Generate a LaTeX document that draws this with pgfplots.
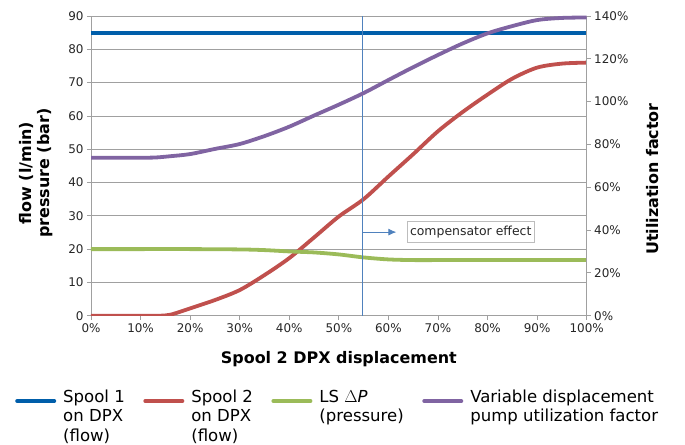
\documentclass[border=0pt]{standalone}
\usepackage{fontspec}
\setmainfont{DejaVu Sans}
\usepackage{pgfplots}
\pgfplotsset{compat=1.18}
\usetikzlibrary{arrows.meta}

\definecolor{sblue}{RGB}{0,94,170}
\definecolor{sred}{RGB}{192,80,77}
\definecolor{sgreen}{RGB}{155,187,89}
\definecolor{spurple}{RGB}{128,100,162}
\definecolor{vblue}{RGB}{79,129,189}
\definecolor{gridc}{RGB}{160,160,160}

\pgfplotsset{
  common/.style={
    scale only axis, width=495.7bp, height=299.7bp,
    xmin=0, xmax=100,
    axis line style={gridc, line width=0.8bp},
    tick style={gridc, line width=0.8bp},
    tick align=outside, major tick length=4bp,
    ticklabel style={font=\fontsize{12}{14}\selectfont, text=black!85},
    /pgf/number format/assume math mode=true,
    label style={font=\fontsize{16}{18}\selectfont\bfseries},
  },
}

\begin{document}
\begin{tikzpicture}
\begin{axis}[common,
  ymin=0, ymax=90,
  axis y line*=left, axis x line*=bottom,
  xtick={0,10,...,100}, ytick={0,10,...,90},
  xticklabel={\pgfmathprintnumber{\tick}\%},
  ymajorgrids, grid style={gridc, line width=0.8bp},
  xlabel={Spool 2 DPX displacement},
  xlabel style={at={(axis description cs:0.5,-0.1585)}, anchor=base},
  ylabel={flow (l/min)\\pressure (bar)},
  ylabel style={align=center, at={(axis description cs:-0.111,0.476)}, anchor=center},
  legend cell align=left,
  legend columns=4,
  legend image code/.code={\draw[#1, line width=4bp, line cap=round] (2bp,1.5bp) -- (39bp,1.5bp);},
  legend style={at={(axis description cs:-0.1593,-0.237)}, anchor=north west,
    draw=none, fill=none, font=\fontsize{16.6}{19.5}\selectfont,
    nodes={inner sep=0pt, anchor=base west},
    /tikz/every odd column/.append style={column sep=7bp},
    /tikz/every even column/.append style={column sep=18.5bp}},
]
\coordinate (sw) at (rel axis cs:0,0);

\addplot[sblue, line width=3.8bp] coordinates {(0,85) (100,85)};
\addlegendentry{\begin{tabular}[t]{@{}l@{}}Spool 1\\on DPX\\(flow)\end{tabular}}

\addplot[sred, line width=3.8bp, smooth] coordinates {
  (0,0) (5,0) (10,0) (14,0) (16,0.3) (18,1.2) (20,2.2) (25,4.7) (30,7.7)
  (35,12.2) (40,17.3) (45,23.5) (50,29.8) (55,35) (60,41.8) (65,48.5)
  (70,55.4) (75,61.2) (80,66.4) (85,71.2) (90,74.5) (95,75.7) (100,76)};
\addlegendentry{\begin{tabular}[t]{@{}l@{}}Spool 2\\on DPX\\(flow)\end{tabular}}

\addplot[sgreen, line width=3.8bp, smooth] coordinates {
  (0,20) (10,20) (20,20) (30,19.9) (35,19.7) (40,19.3) (45,19) (50,18.4)
  (55,17.5) (60,16.9) (65,16.7) (70,16.7) (80,16.7) (100,16.7)};
\addlegendentry{\begin{tabular}[t]{@{}l@{}}LS $\Delta$\textit{P}\\(pressure)\end{tabular}}

\addplot[vblue, line width=0.9bp, forget plot] coordinates {(54.8,0) (54.8,90)};
\draw[vblue, line width=0.9bp, -{Latex[length=8bp,width=7bp]}] (axis cs:54.8,25.1) -- (axis cs:61.6,25.1);
\node[draw=gridc!70, fill=white, line width=0.8bp, font=\fontsize{12.5}{14}\selectfont,
  text=black!85, inner xsep=3bp, minimum height=21bp] at (axis cs:76.6,25.1) {compensator effect};

\addlegendimage{spurple}
\addlegendentry{\begin{tabular}[t]{@{}l@{}}Variable displacement\\pump utilization factor\end{tabular}}
\end{axis}

\begin{axis}[common,
  ymin=0, ymax=140,
  axis y line*=right, axis x line=none,
  ytick={0,20,...,140},
  yticklabel={\pgfmathprintnumber{\tick}\%},
  ylabel={Utilization factor},
  ylabel style={at={(axis description cs:1.1337,0.456)}, anchor=center},
]
\addplot[spurple, line width=3.8bp, smooth] coordinates {
  (0,73.8) (5,73.8) (10,73.8) (13,73.9) (16,74.5) (20,75.5) (25,77.9) (30,80.2)
  (35,83.9) (40,88.3) (45,93.5) (50,98.6) (55,104) (60,110.1) (65,116.1)
  (70,121.8) (75,127.2) (80,131.9) (85,135.3) (90,138.1) (95,139.1) (100,139.3)};
\end{axis}

\pgfresetboundingbox
\path (sw) ++(-91bp,-129.3bp) rectangle ++(685bp,445bp);
\end{tikzpicture}
\end{document}
